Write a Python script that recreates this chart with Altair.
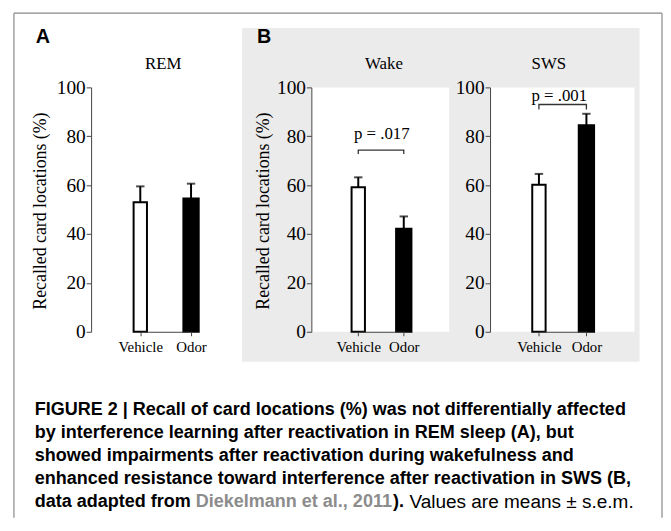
import altair as alt
import pandas as pd

# ---------------- data ----------------
conditions = ["Vehicle", "Odor"]
rem_means = [53.0, 54.5]
rem_sems = [6.5, 6.1]
wake_means = [59.1, 42.2]
wake_sems = [4.1, 5.0]
sws_means = [60.2, 84.5]
sws_sems = [4.4, 4.7]
y_ticks = [0, 20, 40, 60, 80, 100]

panel_titles = ["REM", "Wake", "SWS"]
panel_letters = ["A", "B"]
p_labels = ["p = .017", "p = .001"]
wake_bracket = [72.7, 74.3]   # leg bottom, bracket level
sws_bracket = [91.0, 93.0]
y_axis_title = "Recalled card locations (%)"

caption_lines = [
    "FIGURE 2 | Recall of card locations (%) was not differentially affected",
    "by interference learning after reactivation in REM sleep (A), but",
    "showed impairments after reactivation during wakefulness and",
    "enhanced resistance toward interference after reactivation in SWS (B,",
]
caption_last = ["data adapted from", "Diekelmann et al., 2011", ").", "Values are means \u00b1 s.e.m."]

# ---------------- style ----------------
SERIF = "Liberation Serif, Times New Roman, serif"
SANS = "Liberation Sans, Arial, Helvetica, sans-serif"
AXC = "#444444"
H = 247
GRAY = "#ebebeb"
CAP_FS = 18.2


def one(text):
    return pd.DataFrame({"t": [text]})


def text_layer(text, x, y, font=SERIF, size=17, weight="normal", color="black", align="center"):
    return alt.Chart(one(text)).mark_text(
        font=font, fontSize=size, fontWeight=weight, color=color, align=align, baseline="middle"
    ).encode(text="t:N", x=alt.value(x), y=alt.value(y))


def rect_layer(x, x2, y, y2, fill):
    return alt.Chart(one("r")).mark_rect(fill=fill, stroke=None).encode(
        x=alt.value(x), x2=alt.value(x2), y=alt.value(y), y2=alt.value(y2)
    )


def rule_layer(x, x2, y, y2, color="#888888", width=1.2):
    return alt.Chart(one("r")).mark_rule(color=color, strokeWidth=width).encode(
        x=alt.value(x), x2=alt.value(x2), y=alt.value(y), y2=alt.value(y2)
    )


def panel(means, sems, width, x_range, ytitle_x, show_ytitle, before=(), after=(), bracket=None):
    df = pd.DataFrame({
        "cond": conditions,
        "mean": means,
        "hi": [m + s for m, s in zip(means, sems)],
    })
    xs = alt.Scale(type="point", domain=conditions, range=x_range, padding=0)
    ys = alt.Scale(domain=[0, 100], nice=False)
    xaxis = alt.Axis(
        title=None, labelAngle=0, labelFont=SERIF, labelFontSize=15, labelColor="black",
        tickSize=4, labelPadding=4, domainColor=AXC, tickColor=AXC, grid=False, zindex=1,
    )
    yaxis_kwargs = dict(
        values=y_ticks, labelFont=SERIF, labelFontSize=19.5, labelColor="black", labelPadding=1,
        tickSize=5, domainColor=AXC, tickColor=AXC, grid=False, zindex=1,
    )
    if show_ytitle:
        yaxis = alt.Axis(
            title=y_axis_title, titleFont=SERIF, titleFontSize=18, titleFontWeight="normal",
            titleColor="black", titleX=ytitle_x, titleY=H / 2 + 1, titleAngle=270,
            titleBaseline="middle", titleAlign="center", **yaxis_kwargs,
        )
    else:
        yaxis = alt.Axis(title=None, **yaxis_kwargs)
    X = alt.X("cond:N", scale=xs, sort=conditions, axis=xaxis)

    bars = alt.Chart(df).mark_bar(stroke="black", strokeWidth=2).encode(
        x=X,
        y=alt.Y("mean:Q", scale=ys, axis=yaxis),
        fill=alt.Fill("cond:N", scale=alt.Scale(domain=conditions, range=["white", "black"]), legend=None),
        size=alt.Size("cond:N", scale=alt.Scale(domain=conditions, range=[13.5, 15.5]), legend=None),
    )
    errs = alt.Chart(df).mark_rule(color="black", strokeWidth=2).encode(
        x=X, y=alt.Y("mean:Q", scale=ys, axis=yaxis), y2="hi:Q"
    )
    caps = alt.Chart(df).mark_tick(color="black", thickness=2, size=8.5).encode(
        x=X, y=alt.Y("hi:Q", scale=ys, axis=yaxis)
    )
    layers = list(before) + [bars, errs, caps]
    if bracket is not None:
        bdf = pd.DataFrame({
            "cond": [conditions[0], conditions[0], conditions[1], conditions[1]],
            "by": [bracket[0], bracket[1], bracket[1], bracket[0]],
            "o": [0, 1, 2, 3],
        })
        layers.append(
            alt.Chart(bdf).mark_line(color="#333333", strokeWidth=1.3).encode(
                x=X, y=alt.Y("by:Q", scale=ys, axis=yaxis), order="o:Q"
            )
        )
    layers += list(after)
    return alt.layer(*layers).properties(width=width, height=H)


# ---------------- panel A (REM) ----------------
cap_x = -57
cap_y0 = 326
cap_dy = 23.2
rem_before = [
    rule_layer(-78, -78, -75, 435),
    rule_layer(-78, 577, -75, -75),
    rule_layer(577, 577, -75, 435),
    text_layer(panel_letters[0], -56, -51, font=SANS, size=20, weight="bold", align="left"),
    text_layer(panel_titles[0], 73, -24),
]
for i, line in enumerate(caption_lines):
    rem_before.append(text_layer(line, cap_x, cap_y0 + i * cap_dy, font=SANS, size=CAP_FS, weight="bold", align="left"))
last_y = cap_y0 + 4 * cap_dy
# segment starts follow the widths of the preceding segments (Arial metrics, em units)
seg1 = cap_x + 8.946 * CAP_FS
seg2 = seg1 + 10.95 * CAP_FS
seg3 = seg2 + 0.611 * CAP_FS + 0.3 * CAP_FS
rem_before += [
    text_layer(caption_last[0], cap_x, last_y, font=SANS, size=CAP_FS, weight="bold", align="left"),
    text_layer(caption_last[1], seg1, last_y, font=SANS, size=CAP_FS, weight="bold", color="#8c8c8c", align="left"),
    text_layer(caption_last[2], seg2, last_y, font=SANS, size=CAP_FS, weight="bold", align="left"),
    text_layer(caption_last[3], seg3, last_y, font=SANS, size=CAP_FS + 1, align="left"),
]

rem = panel(rem_means, rem_sems, 181.7, [49.7, 101], -51, True, before=rem_before)

# ---------------- panel B (Wake, SWS) ----------------
WW = 139.4
wake_before = [
    rect_layer(-70, 331.7, -60, 277.3, GRAY),
    rect_layer(0, WW, 0, H, "white"),
    text_layer(panel_letters[1], -55, -51, font=SANS, size=20, weight="bold", align="left"),
    text_layer(panel_titles[1], 73.4, -24),
]
wake = panel(wake_means, wake_sems, WW, [47.4, 93.4], -48, True, before=wake_before,
             bracket=wake_bracket, after=[text_layer(p_labels[0], 71.2, 47.5)])

SW = 146
sws_before = [
    rect_layer(0, SW, 0, H, "white"),
    text_layer(panel_titles[2], 59.4, -24),
]
sws = panel(sws_means, sws_sems, SW, [49.4, 97.4], 0, False, before=sws_before,
            bracket=sws_bracket, after=[text_layer(p_labels[1], 70, 9)])

chart = alt.hconcat(rem, wake, sws, spacing=40.6, bounds="flush").properties(
    padding={"left": 5, "top": 1.5, "right": 0, "bottom": 0},
    background="white",
).configure_view(stroke=None)

chart.save("out.html", embed_options={"renderer": "svg", "actions": False})
